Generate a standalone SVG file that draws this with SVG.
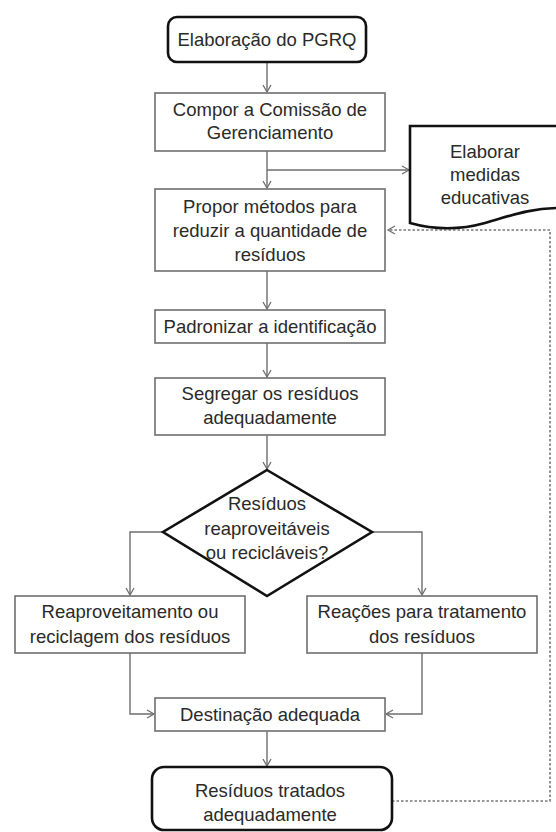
<svg xmlns="http://www.w3.org/2000/svg" width="556" height="832" viewBox="0 0 556 832">
<style>
text{font-family:"Liberation Sans",Arial,sans-serif;font-size:18.5px;fill:#2a2a2a;text-anchor:middle}
.box{fill:#fff;stroke:#6e6e6e;stroke-width:1.6}
.term{fill:#fff;stroke:#111;stroke-width:2.6}
.con{fill:none;stroke:#6e6e6e;stroke-width:1.4}
.dot{fill:none;stroke:#777;stroke-width:1.6;stroke-dasharray:2.5 2}
</style>
<defs>
<marker id="arr" markerWidth="10" markerHeight="10" refX="8" refY="5" orient="auto" markerUnits="userSpaceOnUse">
<path d="M1,1 L8,5 L1,9" fill="none" stroke="#6e6e6e" stroke-width="1.3"/>
</marker>
</defs>
<rect width="556" height="832" fill="#fff"/>
<g id="connectors">
<path class="con" d="M267,62 V92" marker-end="url(#arr)"/>
<path class="con" d="M267,151 V188" marker-end="url(#arr)"/>
<path class="con" d="M267,170 H409" marker-end="url(#arr)"/>
<path class="con" d="M267,271 V309" marker-end="url(#arr)"/>
<path class="con" d="M267,343 V377" marker-end="url(#arr)"/>
<path class="con" d="M267,435 V469" marker-end="url(#arr)"/>
<path class="con" d="M163,532 H130 V595" marker-end="url(#arr)"/>
<path class="con" d="M372,532 H422 V595" marker-end="url(#arr)"/>
<path class="con" d="M130,653 V714 H154" marker-end="url(#arr)"/>
<path class="con" d="M422,653 V714 H386" marker-end="url(#arr)"/>
<path class="con" d="M267,731 V766" marker-end="url(#arr)"/>
<path class="dot" d="M392,801 H550 V230 H388" marker-end="url(#arr)"/>
</g>
<g id="n-start">
<rect class="term" x="168" y="17" width="198" height="45" rx="9"/>
<text x="267" y="46">Elaboração do PGRQ</text>
</g>
<g id="n-compor">
<rect class="box" x="155" y="93" width="230" height="58"/>
<text x="270" y="116">Compor a Comissão de</text>
<text x="270" y="139">Gerenciamento</text>
</g>
<g id="n-educ">
<path class="term" d="M410,126 H560 V208 C530,208 510,216 485,223 C460,230 435,230 410,223 Z"/>
<text x="485" y="158">Elaborar</text>
<text x="485" y="181">medidas</text>
<text x="485" y="204">educativas</text>
</g>
<g id="n-propor">
<rect class="box" x="155" y="189" width="230" height="82"/>
<text x="270" y="213">Propor métodos para</text>
<text x="270" y="237">reduzir a quantidade de</text>
<text x="270" y="261">resíduos</text>
</g>
<g id="n-padronizar">
<rect class="box" x="155" y="310" width="230" height="33"/>
<text x="270" y="333">Padronizar a identificação</text>
</g>
<g id="n-segregar">
<rect class="box" x="155" y="378" width="230" height="57"/>
<text x="270" y="400">Segregar os resíduos</text>
<text x="270" y="424">adequadamente</text>
</g>
<g id="n-decisao">
<path class="term" d="M267,470 L372,532 L267,596 L163,532 Z" stroke-linejoin="miter"/>
<text x="267" y="510">Resíduos</text>
<text x="267" y="535">reaproveitáveis</text>
<text x="267" y="559">ou recicláveis?</text>
</g>
<g id="n-reaprov">
<rect class="box" x="15" y="596" width="230" height="57"/>
<text x="130" y="618">Reaproveitamento ou</text>
<text x="130" y="643">reciclagem dos resíduos</text>
</g>
<g id="n-reacoes">
<rect class="box" x="307" y="596" width="230" height="57"/>
<text x="422" y="618">Reações para tratamento</text>
<text x="422" y="643">dos resíduos</text>
</g>
<g id="n-destinacao">
<rect class="box" x="155" y="698" width="230" height="33"/>
<text x="270" y="721">Destinação adequada</text>
</g>
<g id="n-final">
<rect class="term" x="152" y="767" width="240" height="63" rx="12"/>
<text x="270" y="797">Resíduos tratados</text>
<text x="270" y="821">adequadamente</text>
</g>
</svg>
